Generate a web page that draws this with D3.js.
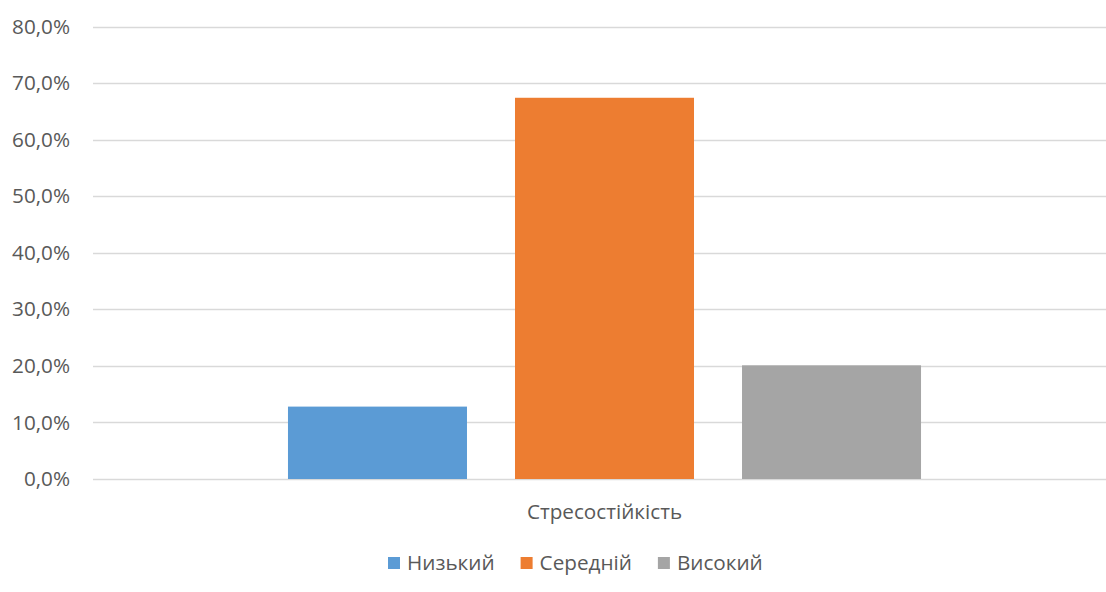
<!DOCTYPE html>
<html><head><meta charset="utf-8">
<script src="https://cdn.jsdelivr.net/npm/d3@7"></script>
<style>body{margin:0;background:#fff}svg{display:block}text{font-family:"Open Sans","Noto Sans",sans-serif;fill:#595959}</style>
</head><body>
<svg id="c" width="1106" height="592"></svg>
<script>
(function(){
const categories = ["Стресостійкість"];
const seriesNames = ["Низький", "Середній", "Високий"];
const seriesValues = [12.8, 67.4, 20.1];
const colors = ["#5b9bd5", "#ed7d31", "#a5a5a5"];
const yTicks = [0, 10, 20, 30, 40, 50, 60, 70, 80];

const svg = d3.select("#c");
const pLeft = 93, pRight = 1116, pTop = 26.5, pBottom = 479;
const fs = "20.7px";
const y = d3.scaleLinear().domain([0, 80]).range([pBottom, pTop]);
const x0 = d3.scaleBand().domain(categories).range([pLeft, pRight]).paddingInner(0).paddingOuter(0.308);
const x1 = d3.scaleBand().domain(seriesNames).range([0, x0.bandwidth()]).paddingInner(0.2115).paddingOuter(0);

// gridlines
svg.append("g").selectAll("line").data(yTicks).join("line")
  .attr("x1", pLeft).attr("x2", 1106)
  .attr("y1", d => Math.round(y(d)) + 0.5).attr("y2", d => Math.round(y(d)) + 0.5)
  .attr("stroke", "#d9d9d9").attr("stroke-width", 1.5);

// y axis labels
const yAxis = d3.axisLeft(y).tickValues(yTicks).tickSize(0).tickPadding(0)
  .tickFormat(d => d.toFixed(1).replace(".", ",") + "%");
const ga = svg.append("g").attr("transform", `translate(70,0)`).call(yAxis);
ga.select(".domain").remove();
ga.selectAll("text").style("font-size", fs).attr("fill", "#595959")
  .style("font-family", '"Open Sans","Noto Sans",sans-serif');

// bars
const g = svg.append("g").selectAll("g").data(categories).join("g")
  .attr("transform", d => `translate(${x0(d)},0)`);
g.selectAll("rect").data(seriesNames.map((n, i) => ({n, v: seriesValues[i], c: colors[i]}))).join("rect")
  .attr("x", d => x1(d.n)).attr("width", x1.bandwidth())
  .attr("y", d => y(d.v)).attr("height", d => y(0) - y(d.v))
  .attr("fill", d => d.c);

// category label
svg.append("g").selectAll("text").data(categories).join("text")
  .attr("x", d => x0(d) + x0.bandwidth() / 2).attr("y", 519)
  .attr("text-anchor", "middle").style("font-size", fs).text(d => d);

// legend
const lg = svg.append("g");
let lx = 388;
seriesNames.forEach((n, i) => {
  lg.append("rect").attr("x", lx).attr("y", 557).attr("width", 12).attr("height", 12).attr("fill", colors[i]);
  const t = lg.append("text").attr("x", lx + 19).attr("y", 570).style("font-size", fs).text(n);
  lx += 19 + t.node().getComputedTextLength() + 26;
});
})();
</script>
</body></html>
